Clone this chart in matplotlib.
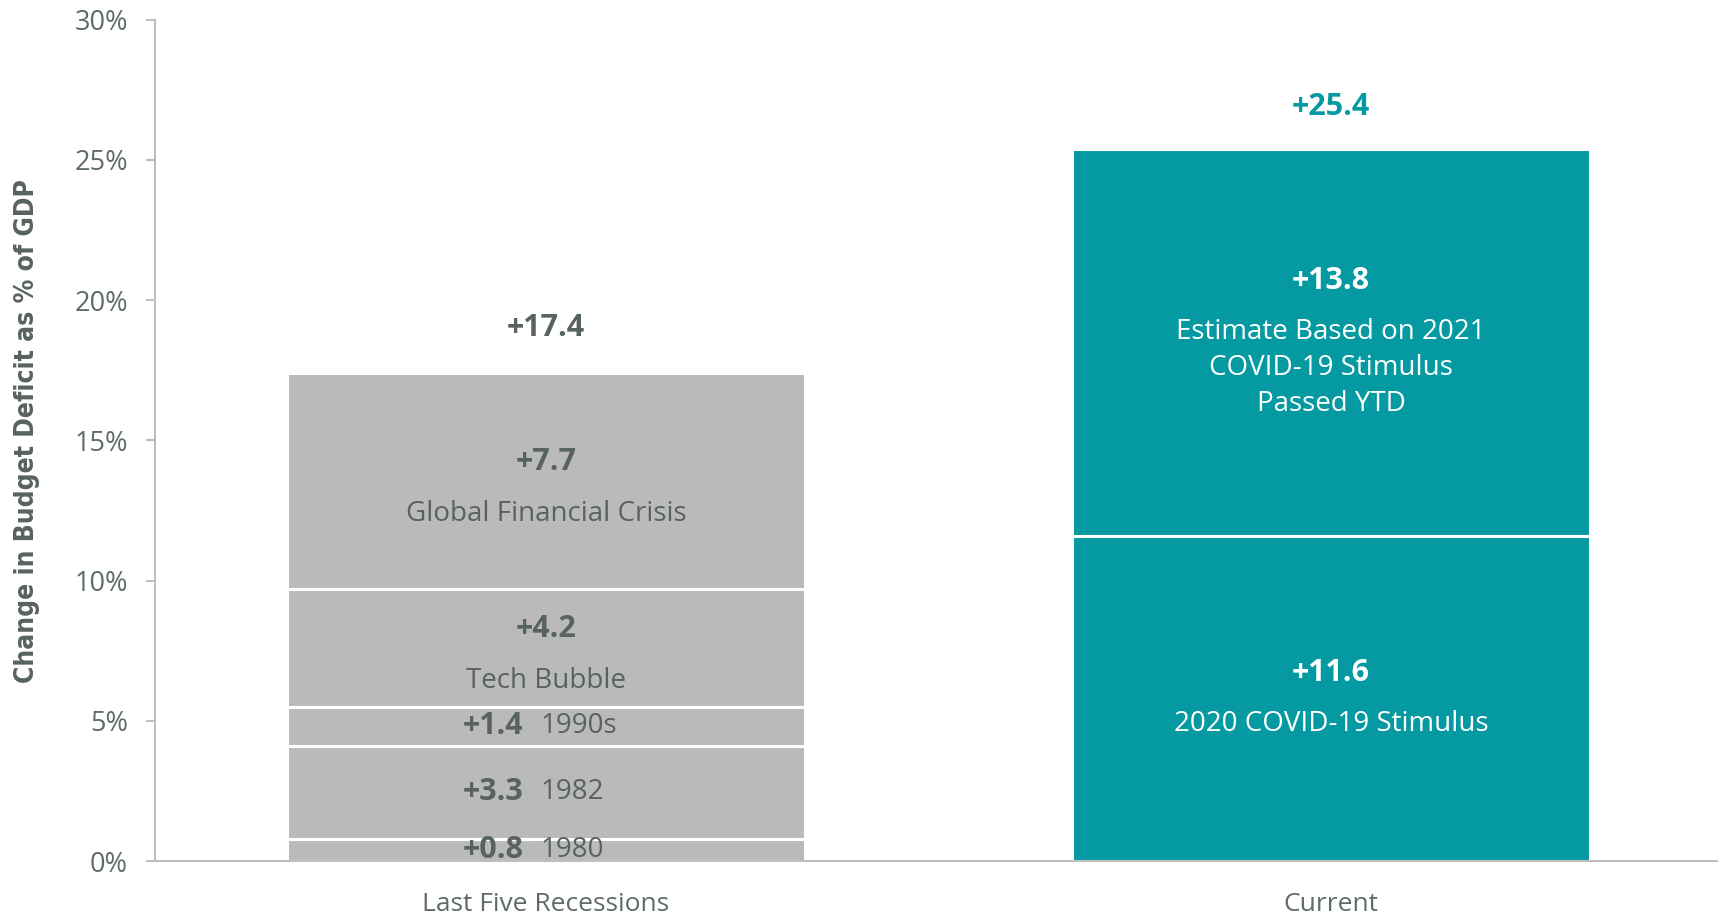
import matplotlib.pyplot as plt
import numpy as np

plt.rcParams['font.family'] = ['Open Sans', 'DejaVu Sans']

# data
categories = ['Last Five Recessions', 'Current']
past_values = [0.8, 3.3, 1.4, 4.2, 7.7]
past_labels = ['1980', '1982', '1990s', 'Tech Bubble', 'Global Financial Crisis']
current_values = [11.6, 13.8]
current_labels = ['2020 COVID-19 Stimulus', 'Estimate Based on 2021\nCOVID-19 Stimulus\nPassed YTD']
totals = [17.4, 25.4]
y_ticks = [0, 5, 10, 15, 20, 25, 30]

GRAY = '#BABABA'
TEAL = '#0599A1'
DARK = '#58625F'
TICK = '#5F6B69'

fig = plt.figure(figsize=(17.18, 9.18), dpi=100)
ax = fig.add_axes([0.0902, 0.062, 0.9098, 0.9165])

width = 0.66
GAP = 37      # pt between value and first text line
LINE = 25.6   # pt between text lines

def stack(ax, x, values, labels, color, txtcolor, shift=0):
    bottom = 0
    for v, lab in zip(values, labels):
        ax.bar(x, v, width=width, bottom=bottom, color=color,
               edgecolor='white', linewidth=2.2, zorder=2)
        mid = bottom + v / 2
        if v < 4:
            ax.annotate('+%.1f' % v, (x, mid), xytext=(-16, 0), textcoords='offset points',
                        ha='right', va='center', fontsize=22, fontweight='bold', color=txtcolor)
            ax.annotate(lab, (x, mid), xytext=(-4, 0), textcoords='offset points',
                        ha='left', va='center', fontsize=20, color=txtcolor)
        else:
            lines = lab.split('\n')
            total = GAP + LINE * (len(lines) - 1)
            y0 = total / 2 + shift
            ax.annotate('+%.1f' % v, (x, mid), xytext=(0, y0), textcoords='offset points',
                        ha='center', va='center', fontsize=22, fontweight='bold', color=txtcolor)
            for i, line in enumerate(lines):
                ax.annotate(line, (x, mid), xytext=(0, y0 - GAP - LINE * i),
                            textcoords='offset points', ha='center', va='center',
                            fontsize=20, color=txtcolor)
        bottom += v

stack(ax, 0, past_values, past_labels, GRAY, DARK, shift=-5)
stack(ax, 1, current_values, current_labels, TEAL, 'white')

ax.text(0, totals[0] + 1.6, '+%.1f' % totals[0], ha='center', va='center',
        fontsize=22, fontweight='bold', color=DARK)
ax.text(1, totals[1] + 1.5, '+%.1f' % totals[1], ha='center', va='center',
        fontsize=22, fontweight='bold', color=TEAL)

ax.set_xlim(-0.498, 1.493)
ax.set_ylim(0, 30)
ax.set_yticks(y_ticks)
ax.set_yticklabels(['%d%%' % t for t in y_ticks])
ax.set_xticks([0, 1])
ax.set_xticklabels(categories)
ax.tick_params(axis='y', length=6.5, color='#BFBFBF', width=1.5, labelsize=19.5,
               labelcolor=TICK, pad=13)
ax.tick_params(axis='x', length=0, labelsize=19, labelcolor=TICK, pad=22)

for s in ['top', 'right']:
    ax.spines[s].set_visible(False)
for s in ['left', 'bottom']:
    ax.spines[s].set_color('#BFBFBF')
    ax.spines[s].set_linewidth(1.5)

fig.text(0.0155, 0.53, 'Change in Budget Deficit as % of GDP', rotation=90,
         ha='center', va='center', fontsize=19, fontweight='bold', color=DARK,
         family=['DejaVu Sans'], fontstretch='condensed')

fig.savefig('out.png', dpi=100)
